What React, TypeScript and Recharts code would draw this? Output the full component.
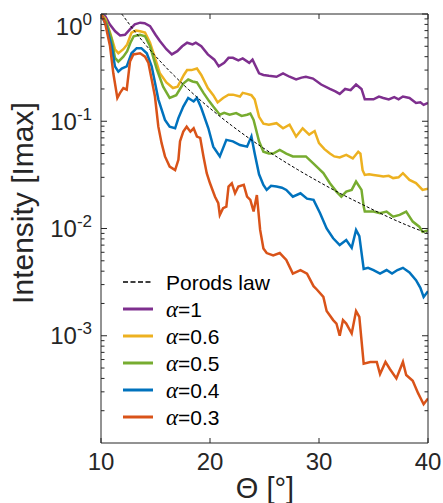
import React from "react";
import { LineChart, Line, XAxis, YAxis } from "recharts";

type Pt = [number, number];

// theta [deg], normalised intensity
const porodLaw: Pt[] = [
  [11.9, 1], [12, 0.97], [13, 0.71], [14, 0.53], [15, 0.405], [16, 0.315], [17, 0.249],
  [18, 0.199], [19, 0.161], [20, 0.132], [22, 0.091], [24, 0.0648], [26, 0.0475],
  [28, 0.0356], [30, 0.0272], [32, 0.0211], [34, 0.0167], [36, 0.0133], [38, 0.0108], [40, 0.009],
];

const alpha1: Pt[] = [
  [10, 1], [10.4, 0.95], [10.8, 0.8], [11.3, 0.69], [11.75, 0.63], [12.2, 0.64], [12.65, 0.72],
  [13.1, 0.8], [13.6, 0.83], [14.0, 0.82], [14.5, 0.77], [15.0, 0.64], [15.4, 0.56], [16.0, 0.47],
  [16.5, 0.42], [17.0, 0.45], [17.45, 0.5], [17.9, 0.54], [18.4, 0.52], [18.7, 0.54], [19.2, 0.5],
  [19.8, 0.42], [20.4, 0.375], [20.8, 0.325], [21.3, 0.35], [21.7, 0.39], [22.1, 0.39], [22.6, 0.37],
  [23.0, 0.385], [23.6, 0.35], [23.9, 0.375], [24.5, 0.28], [24.9, 0.27], [25.4, 0.265], [26.1, 0.26],
  [26.7, 0.28], [27.3, 0.26], [27.9, 0.245], [28.4, 0.255], [28.8, 0.26], [29.45, 0.25], [30.2, 0.22],
  [31.0, 0.2], [31.5, 0.19], [31.9, 0.18], [32.4, 0.2], [32.9, 0.195], [33.4, 0.22], [33.9, 0.2],
  [34.2, 0.16], [34.6, 0.16], [35.0, 0.16], [35.5, 0.17], [35.9, 0.165], [36.4, 0.16], [36.9, 0.168],
  [37.3, 0.16], [37.7, 0.17], [38.3, 0.165], [38.9, 0.148], [39.3, 0.15], [39.6, 0.142], [40, 0.148],
];

const alpha06: Pt[] = [
  [10, 1], [10.4, 0.9], [10.83, 0.67], [11.28, 0.47], [11.59, 0.43], [12.05, 0.47], [12.4, 0.52],
  [12.8, 0.67], [13.2, 0.7], [13.58, 0.69], [14.04, 0.67], [14.5, 0.54], [15.1, 0.35], [15.4, 0.28],
  [16.0, 0.23], [16.6, 0.204], [17.03, 0.21], [17.6, 0.27], [17.9, 0.3], [18.3, 0.3], [18.8, 0.31],
  [19.2, 0.27], [19.8, 0.204], [20.3, 0.175], [20.7, 0.15], [21.2, 0.165], [21.7, 0.177], [22.1, 0.177],
  [22.75, 0.17], [23.0, 0.184], [23.4, 0.18], [23.8, 0.175], [24.1, 0.16], [24.5, 0.11], [24.9, 0.095],
  [25.4, 0.093], [26.1, 0.096], [26.7, 0.086], [27.3, 0.093], [27.9, 0.072], [28.5, 0.086], [29.1, 0.075],
  [29.6, 0.081], [30.0, 0.0625], [30.5, 0.055], [31.0, 0.05], [31.4, 0.047], [31.9, 0.046], [32.5, 0.0486],
  [33.1, 0.045], [33.6, 0.052], [33.8, 0.05], [34.0, 0.035], [34.2, 0.0316], [34.6, 0.032], [35.0, 0.0316],
  [35.5, 0.031], [35.9, 0.0305], [36.4, 0.031], [36.8, 0.0295], [37.3, 0.03], [37.7, 0.0328], [38.3, 0.0284],
  [38.9, 0.0265], [39.5, 0.0229], [40, 0.0235],
];

const alpha05: Pt[] = [
  [10, 1], [10.5, 0.83], [10.98, 0.58], [11.28, 0.39], [11.59, 0.36], [12.05, 0.4], [12.4, 0.45],
  [12.7, 0.54], [13.0, 0.62], [13.58, 0.64], [14.04, 0.62], [14.5, 0.5], [15.1, 0.31], [15.7, 0.21],
  [16.3, 0.165], [16.9, 0.175], [17.55, 0.225], [18.0, 0.245], [18.4, 0.235], [18.8, 0.23], [19.4, 0.184],
  [19.9, 0.155], [20.3, 0.137], [20.9, 0.115], [21.3, 0.12], [21.8, 0.115], [22.4, 0.119], [22.9, 0.112],
  [23.4, 0.115], [23.7, 0.118], [24.0, 0.103], [24.5, 0.065], [24.9, 0.052], [25.4, 0.05], [25.8, 0.05],
  [26.4, 0.054], [27.0, 0.05], [27.6, 0.047], [28.3, 0.047], [28.8, 0.047], [29.45, 0.0407], [30.4, 0.0328],
  [31.0, 0.0264], [31.6, 0.0221], [32.05, 0.0198], [32.5, 0.0221], [33.0, 0.0229], [33.4, 0.0274],
  [33.9, 0.0229], [34.1, 0.016], [34.2, 0.0144], [35.0, 0.0144], [35.6, 0.0139], [36.2, 0.0144],
  [36.8, 0.0129], [37.4, 0.0134], [38.0, 0.0144], [38.6, 0.0116], [39.2, 0.0104], [39.5, 0.0093], [40, 0.0096],
];

const alpha04: Pt[] = [
  [10, 1], [10.5, 0.77], [10.98, 0.5], [11.28, 0.325], [11.59, 0.29], [11.9, 0.31], [12.36, 0.325],
  [12.8, 0.43], [13.27, 0.48], [13.7, 0.48], [14.2, 0.43], [14.65, 0.325], [15.26, 0.16], [15.87, 0.103],
  [16.3, 0.089], [16.8, 0.086], [17.1, 0.107], [17.55, 0.137], [18.0, 0.165], [18.5, 0.153], [18.8, 0.165],
  [19.2, 0.133], [19.85, 0.086], [20.3, 0.058], [20.9, 0.047], [21.5, 0.067], [22.1, 0.065], [22.75, 0.06],
  [23.4, 0.058], [23.8, 0.072], [24.1, 0.05], [24.5, 0.032], [24.9, 0.0255], [25.2, 0.0229], [25.6, 0.025],
  [26.1, 0.0246], [26.6, 0.024], [27.0, 0.0229], [27.6, 0.0198], [28.3, 0.0213], [28.9, 0.019],
  [29.5, 0.0185], [30.1, 0.0139], [30.7, 0.01], [31.3, 0.0081], [31.9, 0.007], [32.5, 0.0078],
  [33.0, 0.0066], [33.4, 0.0097], [33.7, 0.0085], [34.1, 0.0042], [34.5, 0.0043], [35.0, 0.0041],
  [35.6, 0.0038], [36.2, 0.0041], [36.7, 0.0038], [37.2, 0.0041], [37.7, 0.0043], [38.3, 0.0039],
  [38.9, 0.0033], [39.3, 0.0028], [39.6, 0.0023], [40, 0.0026],
];

const alpha03: Pt[] = [
  [10, 1], [10.37, 0.83], [10.83, 0.5], [11.13, 0.28], [11.5, 0.165], [11.75, 0.184], [12.05, 0.204],
  [12.36, 0.197], [12.66, 0.36], [12.97, 0.42], [13.58, 0.43], [14.04, 0.4], [14.35, 0.35], [14.65, 0.245],
  [14.95, 0.17], [15.26, 0.089], [15.56, 0.0625], [15.87, 0.047], [16.3, 0.0378], [16.8, 0.035],
  [17.1, 0.0437], [17.25, 0.065], [17.55, 0.08], [17.86, 0.089], [18.2, 0.08], [18.5, 0.086], [18.8, 0.072],
  [19.1, 0.07], [19.4, 0.047], [19.7, 0.0328], [20.0, 0.0264], [20.46, 0.0198], [20.76, 0.0172],
  [20.9, 0.0134], [21.2, 0.0155], [21.5, 0.016], [21.7, 0.0246], [22.0, 0.0264], [22.3, 0.0213],
  [22.6, 0.0246], [23.1, 0.0255], [23.4, 0.0198], [23.7, 0.0185], [24.0, 0.0144], [24.3, 0.0205],
  [24.6, 0.0097], [24.9, 0.0065], [25.2, 0.0059], [25.8, 0.0056], [26.4, 0.0059], [27.0, 0.0051],
  [27.6, 0.0038], [28.3, 0.0041], [28.9, 0.0038], [29.5, 0.0029], [29.8, 0.0027], [30.4, 0.0023],
  [30.7, 0.0017], [31.3, 0.0014], [31.6, 0.0013], [31.9, 0.001], [32.2, 0.0014], [32.5, 0.0013],
  [33.0, 0.00105], [33.4, 0.0017], [33.7, 0.0015], [34.1, 0.00055], [34.7, 0.00057], [35.3, 0.00057],
  [35.6, 0.00044], [36.1, 0.00057], [36.5, 0.00049], [37.1, 0.0004], [37.7, 0.00057], [38.0, 0.00043],
  [38.6, 0.00038], [39.1, 0.00029], [39.6, 0.00023], [40, 0.00026],
];

const thetaTicks = [10, 20, 30, 40];
const majorY = [1e-3, 1e-2, 1e-1, 1];
const minorY: number[] = [];
[1e-4, 1e-3, 1e-2, 1e-1].forEach((d) => {
  for (let m = 2; m <= 9; m++) minorY.push(m * d);
});
const yTicks = [...majorY, ...minorY];

const series = [
  { key: "a1", label: "=1", pts: alpha1, color: "#7E2F8E" },
  { key: "a06", label: "=0.6", pts: alpha06, color: "#EDB120" },
  { key: "a05", label: "=0.5", pts: alpha05, color: "#77AC30" },
  { key: "a04", label: "=0.4", pts: alpha04, color: "#0072BD" },
  { key: "a03", label: "=0.3", pts: alpha03, color: "#D95319" },
];

const axisColor = "#262626";
const font = "'Liberation Sans', Arial, Helvetica, sans-serif";

const toRows = (pts: Pt[]) => pts.map(([theta, I]) => ({ theta, I }));

const isMajor = (v: number) => majorY.some((m) => Math.abs(m - v) / m < 1e-6);

const YTickLeft = (props: any) => {
  const { x, y, payload } = props;
  const v = payload.value;
  const major = isMajor(v);
  const e = Math.round(Math.log10(v));
  return (
    <g>
      <line x1={x} x2={x + (major ? 6 : 3.5)} y1={y} y2={y} stroke={axisColor} />
      {major && (
        <text
          x={x - 9}
          y={y + 8.5 + (e === 0 ? 12 : 0)}
          textAnchor="end"
          fontSize={24}
          fontFamily={font}
          fill={axisColor}
        >
          10
          <tspan dy={-10} fontSize={17}>
            {e === 0 ? "0" : String(e)}
          </tspan>
        </text>
      )}
    </g>
  );
};

const YTickRight = (props: any) => {
  const { x, y, payload } = props;
  const major = isMajor(payload.value);
  return <line x1={x} x2={x - (major ? 6 : 3.5)} y1={y} y2={y} stroke={axisColor} />;
};

const XTickBottom = (props: any) => {
  const { x, y, payload } = props;
  return (
    <g>
      <line x1={x} x2={x} y1={y} y2={y - 5} stroke={axisColor} />
      <text x={x} y={y + 27} textAnchor="middle" fontSize={24} fontFamily={font} fill={axisColor}>
        {payload.value}
      </text>
    </g>
  );
};

const XTickTop = (props: any) => {
  const { x, y } = props;
  return <line x1={x} x2={x} y1={y} y2={y + 5} stroke={axisColor} />;
};

export default function App() {
  const legendRows = [
    { key: "porod", dashed: true, color: "#000" },
    ...series.map((s) => ({ key: s.key, dashed: false, color: s.color, label: s.label })),
  ];
  return (
    <div style={{ position: "absolute", left: 0, top: 0, width: 443, height: 503, background: "#fff" }}>
      <LineChart width={443} height={503} margin={{ top: 13, right: 14, bottom: 0, left: 0 }}>
        <XAxis
          xAxisId="b"
          dataKey="theta"
          type="number"
          domain={[10, 40]}
          ticks={thetaTicks}
          interval={0}
          height={60}
          tickSize={0}
          tickMargin={0}
          tickLine={false}
          stroke={axisColor}
          tick={(p: any) => <XTickBottom {...p} />}
          allowDataOverflow
        />
        <XAxis
          xAxisId="t"
          orientation="top"
          dataKey="theta"
          type="number"
          domain={[10, 40]}
          ticks={thetaTicks}
          interval={0}
          height={1}
          tickSize={0}
          tickMargin={0}
          tickLine={false}
          stroke={axisColor}
          tick={(p: any) => <XTickTop {...p} />}
          allowDataOverflow
        />
        <YAxis
          yAxisId="l"
          type="number"
          scale="log"
          domain={[1e-4, 1]}
          ticks={yTicks}
          interval={0}
          width={101}
          tickSize={0}
          tickMargin={0}
          tickLine={false}
          stroke={axisColor}
          tick={(p: any) => <YTickLeft {...p} />}
          allowDataOverflow
        />
        <YAxis
          yAxisId="r"
          orientation="right"
          type="number"
          scale="log"
          domain={[1e-4, 1]}
          ticks={yTicks}
          interval={0}
          width={1}
          tickSize={0}
          tickMargin={0}
          tickLine={false}
          stroke={axisColor}
          tick={(p: any) => <YTickRight {...p} />}
          allowDataOverflow
        />
        {series.map((s) => (
          <Line
            key={s.key}
            xAxisId="b"
            yAxisId="l"
            data={toRows(s.pts)}
            dataKey="I"
            type="linear"
            stroke={s.color}
            strokeWidth={2.5}
            dot={false}
            isAnimationActive={false}
          />
        ))}
        <Line
          xAxisId="b"
          yAxisId="l"
          data={toRows(porodLaw)}
          dataKey="I"
          type="monotone"
          stroke="#000"
          strokeWidth={1}
          strokeDasharray="3 2"
          dot={false}
          isAnimationActive={false}
        />
        <text
          x={265}
          y={498}
          textAnchor="middle"
          fontSize={29}
          fontFamily={font}
          fill={axisColor}
        >
          Θ [°]
        </text>
        <text
          transform="translate(33,203) rotate(-90)"
          textAnchor="middle"
          fontSize={30}
          fontFamily={font}
          fill={axisColor}
        >
          Intensity [Imax]
        </text>
        <g>
          {legendRows.map((r, i) => {
            const cy = 282 + i * 27;
            return (
              <g key={r.key}>
                <line
                  x1={123}
                  x2={153}
                  y1={cy}
                  y2={cy}
                  stroke={r.color}
                  strokeWidth={r.dashed ? 1.3 : 3}
                  strokeDasharray={r.dashed ? "5 2.5" : undefined}
                />
                <text x={166} y={cy + 7.5} fontSize={21} fontFamily={font} fill="#000">
                  {r.dashed ? (
                    "Porods law"
                  ) : (
                    <>
                      <tspan fontStyle="italic" fontFamily="'Liberation Serif', 'DejaVu Serif', serif" fontSize={23}>
                        α
                      </tspan>
                      {(r as any).label}
                    </>
                  )}
                </text>
              </g>
            );
          })}
        </g>
      </LineChart>
    </div>
  );
}
